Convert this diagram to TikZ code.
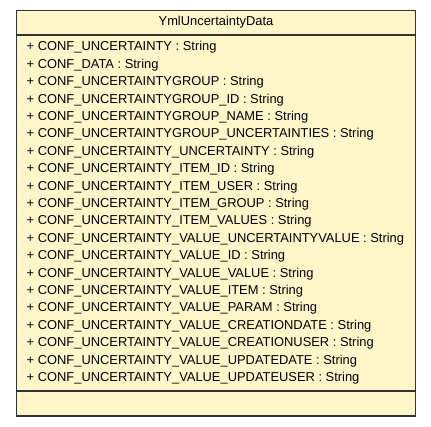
\documentclass[tikz,border=0pt]{standalone}
\usepackage{fontspec}
\setmainfont{Liberation Sans}
\usetikzlibrary{positioning}
\definecolor{ClassFill}{HTML}{FFF7CA}
\definecolor{ClassLine}{HTML}{333333}

\begin{document}
\begin{tikzpicture}[x=1pt,y=-1pt,
  attr/.style={anchor=west,inner sep=0pt,font=\fontsize{12.9}{14}\selectfont}]
\useasboundingbox (0,0) rectangle (431,427);
\filldraw[fill=ClassFill,draw=ClassLine,line width=1.4pt] (16.5,10.7) rectangle (415.3,416);
\draw[ClassLine,line width=1.4pt] (16.5,35) -- (415.3,35);
\draw[ClassLine,line width=1.4pt] (16.5,391) -- (415.3,391);
\node[inner sep=0pt,font=\fontsize{12.9}{14}\selectfont] (title) at (216,22.5) {YmlUncertaintyData};
\foreach \s [count=\i] in {CONF\_UNCERTAINTY,CONF\_DATA,CONF\_UNCERTAINTYGROUP,CONF\_UNCERTAINTYGROUP\_ID,
  CONF\_UNCERTAINTYGROUP\_NAME,CONF\_UNCERTAINTYGROUP\_UNCERTAINTIES,CONF\_UNCERTAINTY\_UNCERTAINTY,
  CONF\_UNCERTAINTY\_ITEM\_ID,CONF\_UNCERTAINTY\_ITEM\_USER,CONF\_UNCERTAINTY\_ITEM\_GROUP,
  CONF\_UNCERTAINTY\_ITEM\_VALUES,CONF\_UNCERTAINTY\_VALUE\_UNCERTAINTYVALUE,CONF\_UNCERTAINTY\_VALUE\_ID,
  CONF\_UNCERTAINTY\_VALUE\_VALUE,CONF\_UNCERTAINTY\_VALUE\_ITEM,CONF\_UNCERTAINTY\_VALUE\_PARAM,
  CONF\_UNCERTAINTY\_VALUE\_CREATIONDATE,CONF\_UNCERTAINTY\_VALUE\_CREATIONUSER,
  CONF\_UNCERTAINTY\_VALUE\_UPDATEDATE,CONF\_UNCERTAINTY\_VALUE\_UPDATEUSER}
  {\node[attr] (a\i) at (26.5,{47.5+(\i-1)*17.4}) {+ \s{} : String};}
\end{tikzpicture}
\end{document}
